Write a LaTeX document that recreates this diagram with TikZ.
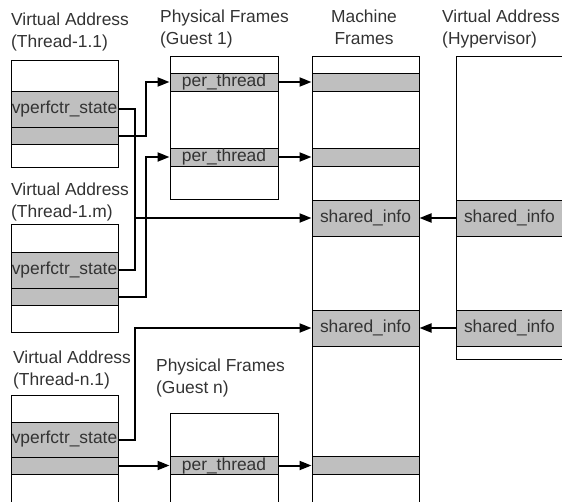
\documentclass[tikz,border=0pt]{standalone}
\usepackage{fontspec}
\setmainfont{Liberation Sans}
\usetikzlibrary{arrows.meta}

\tikzset{
  frame/.style={rectangle,draw,fill=white,line width=1pt,inner sep=0pt,minimum width=107pt},
  band/.style={rectangle,draw,fill=gray!50,line width=1pt,inner sep=0pt,minimum width=107pt,text=black!80},
  link/.style={line width=2pt,-{Triangle[length=12pt,width=9pt]}},
  wire/.style={line width=2pt},
  heading/.style={anchor=base west,align=left,text=black!80,inner sep=0pt}
}

\begin{document}
\begin{tikzpicture}[x=1pt,y=-1pt,font=\fontsize{17.4}{21.5}\selectfont]
			\path[use as bounding box] (0,0) rectangle (562,501);
			\clip (0,0) rectangle (562,501);
			% titles
			\draw (11,47) node [heading] (h11) {Virtual Address\\(Thread-1.1)};
			\draw (160,44) node [heading] (hg1) {Physical Frames\\(Guest 1)};
			\draw (364,44) node [heading,align=center,anchor=base] (hmf) {Machine\\Frames};
			\draw (442,44) node [heading] (hhv) {Virtual Address\\(Hypervisor)};
			\draw (11,217) node [heading] (h1m) {Virtual Address\\(Thread-1.m)};
			\draw (13,385) node [heading] (hn1) {Virtual Address\\(Thread-n.1)};
			\draw (156,393) node [heading] (hgn) {Physical Frames\\(Guest n)};
			% memory columns
			\draw (64.5,113.5) node [frame,minimum height=107pt] (t11) {};
			\draw (64.5,278) node [frame,minimum height=108pt] (t1m) {};
			\draw (64.5,460) node [frame,minimum height=130pt] (tn1) {};
			\draw (224,127.5) node [frame,minimum width=108pt,minimum height=143pt] (g1) {};
			\draw (224,470) node [frame,minimum width=108pt,minimum height=114pt] (gn) {};
			\draw (365.5,290) node [frame,minimum height=468pt] (mf) {};
			\draw (538,207.5) node [frame,minimum width=164pt,minimum height=303pt] (hv) {};
			% pages
			\draw (64.5,109) node [band,minimum height=36pt] (t11s) {vperfctr\_state};
			\draw (64.5,135.5) node [band,minimum height=17pt] (t11p) {};
			\draw (64.5,270) node [band,minimum height=36pt] (t1ms) {vperfctr\_state};
			\draw (64.5,296.5) node [band,minimum height=17pt] (t1mp) {};
			\draw (64.5,439.5) node [band,minimum height=35pt] (tn1s) {vperfctr\_state};
			\draw (64.5,465.5) node [band,minimum height=17pt] (tn1p) {};
			\draw (224,82) node [band,minimum width=108pt,minimum height=18pt] (g1a) {per\_thread};
			\draw (224,157) node [band,minimum width=108pt,minimum height=18pt] (g1b) {per\_thread};
			\draw (224,465.5) node [band,minimum width=108pt,minimum height=18pt] (gna) {per\_thread};
			\draw (365.5,82) node [band,minimum height=18pt] (mfa) {};
			\draw (365.5,157) node [band,minimum height=18pt] (mfb) {};
			\draw (365.5,218) node [band,minimum height=36pt] (mfc) {shared\_info};
			\draw (365.5,328) node [band,minimum height=36pt] (mfd) {shared\_info};
			\draw (365.5,465.5) node [band,minimum height=18pt] (mfe) {};
			\draw (538,218) node [band,minimum width=164pt,minimum height=36pt,align=left,text width=148pt] (hva) {shared\_info};
			\draw (538,328) node [band,minimum width=164pt,minimum height=36pt,align=left,text width=148pt] (hvb) {shared\_info};
			% mappings
			\coordinate (j1) at (135,218);
			\coordinate (j2) at (135,328);
			\draw[link] (t11p.east) -- ++(27,0) |- (g1a.west);
			\draw[link] (t1mp.east) -- ++(27,0) |- (g1b.west);
			\draw[link] (tn1p.east) -- (gna.west);
			\draw[link] (g1a.east) -- (mfa.west);
			\draw[link] (g1b.east) -- (mfb.west);
			\draw[link] (gna.east) -- (mfe.west);
			\draw[link] (t11s.east) -| (j1) -- (mfc.west);
			\draw[wire] (t1ms.east) -| (j1);
			\draw[link] (tn1s.east) -| (j2) -- (mfd.west);
			\draw[link] (hva.west) -- (mfc.east);
			\draw[link] (hvb.west) -- (mfd.east);
		\end{tikzpicture}
\end{document}
